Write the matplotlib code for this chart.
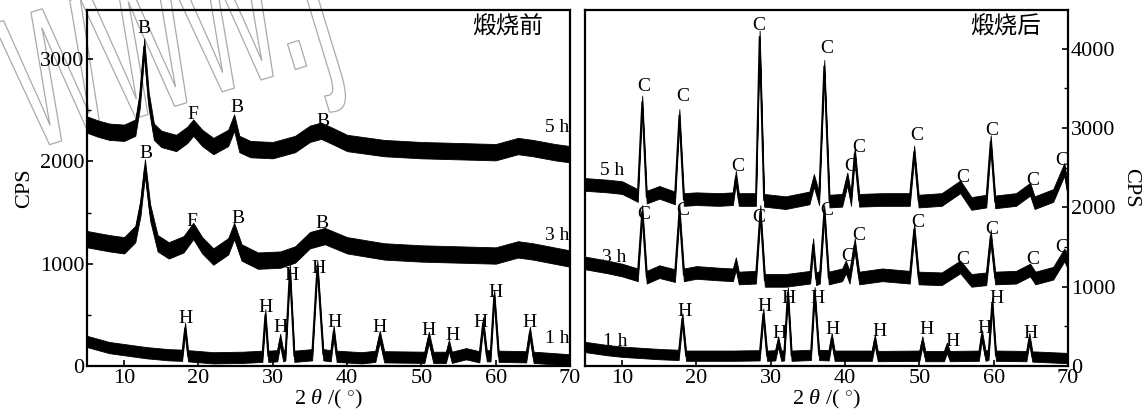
import matplotlib
matplotlib.use("Agg")
import numpy as np
import matplotlib.pyplot as plt
from matplotlib.textpath import TextPath
from matplotlib.patches import PathPatch
from matplotlib.font_manager import FontProperties
from matplotlib.transforms import Affine2D, IdentityTransform

plt.rcParams['font.family'] = ['Liberation Serif', 'Noto Sans CJK SC', 'DejaVu Sans']
plt.rcParams['mathtext.fontset'] = 'custom'
plt.rcParams['mathtext.rm'] = 'Liberation Serif'
plt.rcParams['mathtext.it'] = 'Liberation Serif:italic'

# ---- 煅烧前 (before calcination) ----
pre_5h_x = [5, 6.5, 8, 10, 11.5, 12.1, 12.7, 13.3, 14, 15, 17, 18.5, 19.3, 20.5, 22, 24, 24.8, 25.5,
            27, 30, 33, 35, 36.5, 38, 40, 45, 50, 55, 60, 63, 65, 68, 70]
pre_5h_y = [2360, 2320, 2290, 2280, 2330, 2600, 3120, 2600, 2290, 2220, 2180, 2260, 2330, 2230, 2150,
            2230, 2380, 2170, 2120, 2110, 2170, 2270, 2300, 2250, 2180, 2130, 2110, 2100, 2090, 2150,
            2130, 2090, 2070]

pre_3h_x = [5, 8, 10, 11.5, 12.2, 12.8, 13.5, 14.5, 16, 18, 19.3, 20.5, 22, 24, 24.8, 25.8, 28, 31, 33,
            35, 37, 40, 45, 50, 55, 60, 63, 65, 70]
pre_3h_y = [1240, 1200, 1180, 1290, 1550, 1940, 1500, 1200, 1130, 1190, 1320, 1180, 1070, 1170, 1320,
            1110, 1030, 1040, 1090, 1230, 1270, 1180, 1120, 1100, 1090, 1080, 1140, 1120, 1050]

pre_1h_x = [5, 8, 10, 13, 16, 17.8, 18.2, 18.6, 22, 26, 28.6, 29.0, 29.4, 30.6, 31.0, 31.4, 31.7, 32.3,
            32.9, 35.3, 36.0, 36.8, 37.8, 38.2, 38.6, 42, 43.8, 44.4, 45.0, 50.4, 51.0, 51.6, 53.3, 53.7,
            54.1, 56, 57.8, 58.3, 58.8, 59.3, 59.8, 60.4, 64.1, 64.6, 65.1, 70]
pre_1h_y = [240, 180, 160, 130, 110, 105, 370, 100, 80, 85, 95, 500, 95, 100, 260, 100, 110, 940, 95,
            110, 980, 110, 100, 340, 95, 80, 95, 290, 90, 85, 280, 85, 85, 200, 85, 120, 90, 420, 100,
            100, 690, 95, 90, 330, 85, 60]

pre_labels = [
    ('B', 12.7, 3295), ('F', 19.3, 2460), ('B', 25.2, 2525), ('B', 36.7, 2390),
    ('B', 13.0, 2080), ('F', 19.1, 1410), ('B', 25.3, 1440), ('B', 36.6, 1390),
    ('H', 18.3, 460), ('H', 29.0, 575), ('H', 31.1, 375), ('H', 32.5, 885), ('H', 36.2, 950),
    ('H', 38.3, 425), ('H', 44.4, 375), ('H', 50.9, 345), ('H', 54.2, 295), ('H', 58.0, 425),
    ('H', 60.0, 720), ('H', 64.6, 425),
]
pre_time = [('5 h', 68.3, 2330), ('3 h', 68.3, 1280), ('1 h', 68.3, 270)]

# ---- 煅烧后 (after calcination) ----
post_5h_x = [5, 8, 10, 12.1, 12.7, 13.3, 15, 17.1, 17.7, 18.3, 20, 23, 24.9, 25.3, 25.7, 28.0, 28.5,
             29.1, 32, 35.2, 35.8, 36.5, 37.2, 37.9, 39.6, 40.3, 40.8, 41.3, 41.9, 45, 48.7, 49.3, 49.9,
             53, 55.5, 57, 59.0, 59.6, 60.2, 63, 64.9, 65.5, 68, 69.5, 70]
post_5h_y = [2290, 2270, 2250, 2150, 3330, 2130, 2190, 2120, 3160, 2100, 2110, 2100, 2110, 2380, 2100,
             2100, 4150, 2090, 2060, 2120, 2340, 2110, 3780, 2080, 2090, 2360, 2100, 2680, 2090, 2100,
             2100, 2700, 2080, 2100, 2260, 2050, 2080, 2830, 2070, 2100, 2230, 2060, 2150, 2480, 2200]

post_3h_x = [5, 8, 10, 12.1, 12.7, 13.3, 15, 17.1, 17.7, 18.3, 20, 23, 24.9, 25.3, 25.7, 28.0, 28.6,
             29.2, 32, 35.3, 35.7, 36.1, 36.6, 37.2, 37.8, 39.6, 40.1, 40.6, 41.3, 41.9, 45, 48.7, 49.3,
             49.9, 53, 55.5, 57, 59.0, 59.6, 60.2, 63, 64.9, 65.6, 68, 69.5, 70]
post_3h_y = [1300, 1250, 1210, 1150, 1950, 1120, 1190, 1140, 1950, 1150, 1180, 1160, 1150, 1290, 1110,
             1120, 1950, 1080, 1080, 1120, 1530, 1100, 1120, 1950, 1110, 1150, 1250, 1120, 1530, 1110,
             1150, 1120, 1720, 1110, 1100, 1250, 1080, 1100, 1640, 1110, 1120, 1210, 1110, 1170, 1400,
             1300]

post_1h_x = [5, 8, 10, 15, 17.6, 18.1, 18.6, 25, 28.5, 29.0, 29.5, 30.6, 31.0, 31.4, 31.8, 32.3, 32.8,
             35.4, 35.9, 36.5, 37.8, 38.2, 38.6, 43.6, 44.0, 44.4, 50.0, 50.4, 50.8, 53.3, 53.7, 54.1,
             58.0, 58.4, 58.9, 59.3, 59.8, 60.3, 64.4, 64.8, 65.2, 70]
post_1h_y = [240, 200, 180, 150, 140, 600, 130, 130, 135, 660, 130, 135, 310, 130, 135, 930, 130, 140,
             930, 140, 135, 350, 130, 130, 330, 125, 130, 310, 125, 125, 230, 125, 130, 390, 130, 140,
             800, 130, 125, 350, 120, 100]

post_labels = [
    ('C', 12.9, 3525), ('C', 18.2, 3400), ('C', 25.6, 2510), ('C', 28.4, 4290), ('C', 37.5, 4010),
    ('C', 40.7, 2510), ('C', 41.9, 2760), ('C', 49.6, 2910), ('C', 55.9, 2380), ('C', 59.8, 2975),
    ('C', 65.2, 2340), ('C', 69.2, 2590),
    ('C', 12.9, 1915), ('C', 18.2, 1960), ('C', 28.4, 1875), ('C', 37.5, 1960), ('C', 40.4, 1385),
    ('C', 41.9, 1640), ('C', 49.8, 1810), ('C', 55.8, 1345), ('C', 59.8, 1725), ('C', 65.2, 1345),
    ('C', 69.2, 1490),
    ('H', 18.4, 685), ('H', 29.1, 750), ('H', 31.2, 410), ('H', 32.4, 855), ('H', 36.3, 855),
    ('H', 38.3, 455), ('H', 44.6, 430), ('H', 51.0, 455), ('H', 54.4, 305), ('H', 58.8, 475),
    ('H', 60.4, 855), ('H', 64.9, 410),
]
post_time = [('5 h', 8.7, 2470), ('3 h', 8.9, 1365), ('1 h', 9.1, 305)]


def draw_trace(ax, x, y, w):
    x = np.array(x)
    y = np.array(y)
    ax.fill_between(x, y - w, y + w, color='black', lw=0.6, edgecolor='black')
    ax.plot(x, y, color='black', lw=1.3)


fig = plt.figure(figsize=(11.43, 4.18), dpi=100)
ax1 = fig.add_axes([87 / 1143, 52 / 418, 483 / 1143, 356 / 418])
ax2 = fig.add_axes([585 / 1143, 52 / 418, 483 / 1143, 356 / 418])

# watermark: hollow, tilted outline letters behind the left panel
wm_path = TextPath((0, 0), 'www.j', size=250, prop=FontProperties(family='Liberation Sans'))
wm_tr = Affine2D().scale(0.5, 1.0).rotate_deg(17).translate(32, 268)
wm = PathPatch(wm_tr.transform_path(wm_path), facecolor='none', edgecolor='#aaaaaa', lw=0.9,
               transform=IdentityTransform(), zorder=0)
fig.add_artist(wm)
for ax in (ax1, ax2):
    ax.set_zorder(1)
    ax.patch.set_alpha(0)

for ax in (ax1, ax2):
    ax.set_xlim(5, 70)
    for s in ax.spines.values():
        s.set_linewidth(1.6)
    ax.tick_params(direction='in', labelsize=16, width=1.2, length=4, pad=2)
    ax.tick_params(which='minor', direction='in', width=1.0, length=3)
    ax.set_xticks([10, 20, 30, 40, 50, 60, 70])
    ax.set_xlabel(r'2 $\theta$ /( $^{\circ}$)', fontsize=16, labelpad=0)

# left panel
ax1.set_ylim(0, 3480)
ax1.set_yticks([0, 1000, 2000, 3000])
ax1.set_yticks([500, 1500, 2500], minor=True)
ax1.set_ylabel('CPS', fontsize=16, labelpad=4)
draw_trace(ax1, pre_5h_x, pre_5h_y, 80)
draw_trace(ax1, pre_3h_x, pre_3h_y, 80)
draw_trace(ax1, pre_1h_x, pre_1h_y, 55)
for t, x, y in pre_labels + pre_time:
    ax1.text(x, y, t, fontsize=14, ha='center', va='center')
ax1.text(0.945, 0.955, '煅烧前', transform=ax1.transAxes, fontsize=17, ha='right', va='center',
         family='Noto Sans CJK SC')

# right panel
ax2.set_ylim(0, 4490)
ax2.yaxis.tick_right()
ax2.yaxis.set_label_position('right')
ax2.set_yticks([0, 1000, 2000, 3000, 4000])
ax2.set_yticks([500, 1500, 2500, 3500], minor=True)
ax2.tick_params(axis='y', which='both', left=False, right=True)
ax2.set_ylabel('CPS', fontsize=16, rotation=270, labelpad=18)
draw_trace(ax2, post_5h_x, post_5h_y, 80)
draw_trace(ax2, post_3h_x, post_3h_y, 80)
draw_trace(ax2, post_1h_x, post_1h_y, 65)
for t, x, y in post_labels + post_time:
    ax2.text(x, y, t, fontsize=14, ha='center', va='center')
ax2.text(0.945, 0.955, '煅烧后', transform=ax2.transAxes, fontsize=17, ha='right', va='center',
         family='Noto Sans CJK SC')

fig.savefig('out.png', dpi=100)
